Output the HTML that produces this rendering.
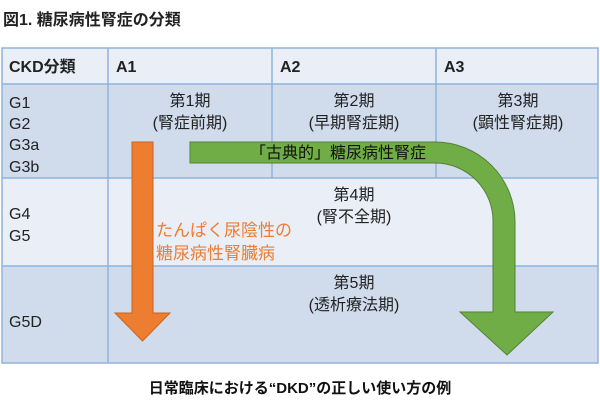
<!DOCTYPE html>
<html><head><meta charset="utf-8"><style>
body{margin:0;background:#fff;width:600px;height:410px;overflow:hidden;font-family:"Liberation Sans","Noto Sans CJK JP",sans-serif;}
</style></head><body>
<svg width="600" height="410" xmlns="http://www.w3.org/2000/svg" font-family="Liberation Sans, Noto Sans CJK JP, sans-serif">
<text x="3" y="25" font-size="16" font-weight="bold" fill="#222">図1. 糖尿病性腎症の分類</text>
<rect x="2" y="48" width="596" height="36" fill="#e9eef7"/>
<rect x="2" y="84" width="596" height="94" fill="#d0dbec"/>
<rect x="2" y="178" width="596" height="88" fill="#e9eef7"/>
<rect x="2" y="266" width="596" height="97" fill="#d0dbec"/>
<g stroke="#8fb4dc" stroke-width="1.5" fill="none">
<rect x="2" y="48" width="596" height="315"/>
<line x1="2" y1="84" x2="598" y2="84"/>
<line x1="2" y1="178" x2="598" y2="178"/>
<line x1="2" y1="266" x2="598" y2="266"/>
<line x1="108" y1="48" x2="108" y2="363"/>
<line x1="272" y1="48" x2="272" y2="178"/>
<line x1="436" y1="48" x2="436" y2="178"/>
</g>
<g font-size="16" fill="#222">
<text x="9" y="72" font-weight="bold">CKD分類</text>
<text x="116" y="72" font-weight="bold">A1</text>
<text x="280" y="72" font-weight="bold">A2</text>
<text x="444" y="72" font-weight="bold">A3</text>
<text x="9" y="108">G1</text>
<text x="9" y="129">G2</text>
<text x="9" y="150">G3a</text>
<text x="9" y="172">G3b</text>
<text x="9" y="219">G4</text>
<text x="9" y="241">G5</text>
<text x="9" y="327">G5D</text>
<g text-anchor="middle">
<text x="190" y="106">第1期</text><text x="190" y="128">(腎症前期)</text>
<text x="354" y="106">第2期</text><text x="354" y="128">(早期腎症期)</text>
<text x="518" y="106">第3期</text><text x="518" y="128">(顕性腎症期)</text>
<text x="354" y="200">第4期</text><text x="354" y="222">(腎不全期)</text>
<text x="354" y="288">第5期</text><text x="354" y="310">(透析療法期)</text>
</g></g>
<path d="M132,142 H153 V313 H170 L142.5,341 L115,313 H132 Z" fill="#ed7d31" stroke="#c9651f" stroke-width="1"/>
<path d="M190,142 H435 A80,80 0 0 1 515,222 V312 H553 L507,355 L460,312 H493 V222 A58,58 0 0 0 435,163 H190 Z" fill="#70ad47" stroke="#548235" stroke-width="1"/>
<text x="250" y="158" font-size="16" fill="#111">「古典的」糖尿病性腎症</text>
<text x="156" y="236" font-size="17" fill="#ed7d31">たんぱく尿陰性の</text>
<text x="156" y="259" font-size="17" fill="#ed7d31">糖尿病性腎臓病</text>
<text x="300" y="393" font-size="15" font-weight="bold" text-anchor="middle" fill="#111">日常臨床における“DKD”の正しい使い方の例</text>
</svg>
</body></html>
